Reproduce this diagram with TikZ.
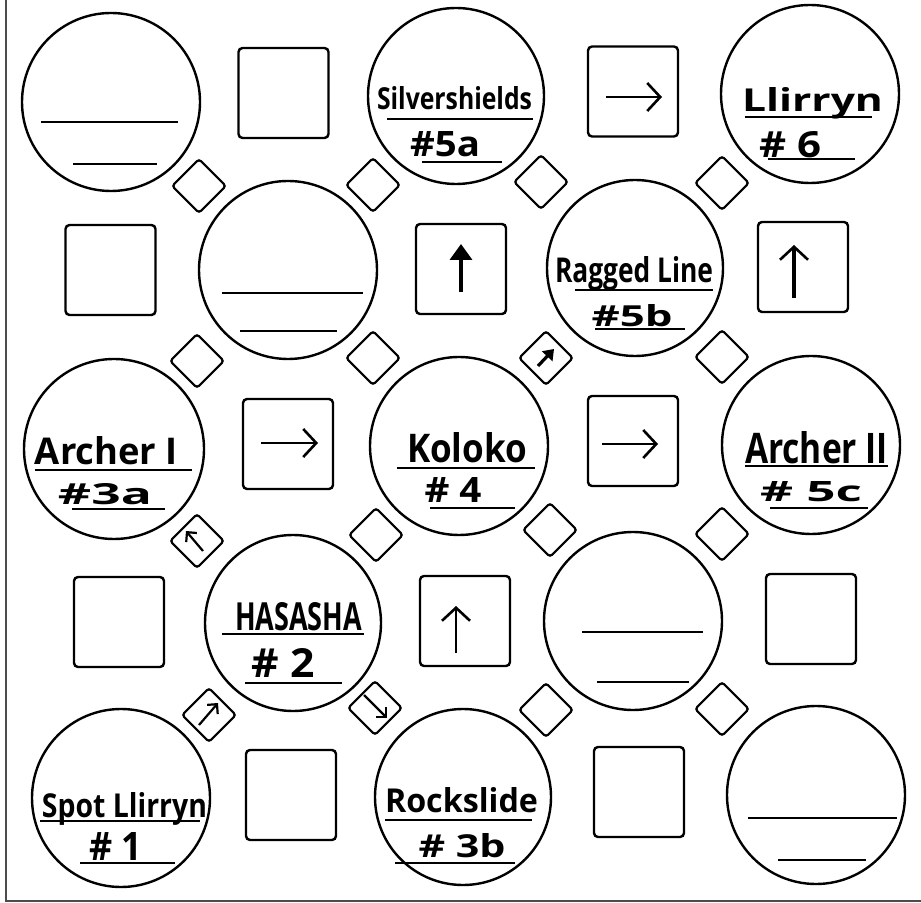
\documentclass[tikz,border=0pt]{standalone}
\usepackage{fontspec}
\setmainfont{Open Sans}
\usetikzlibrary{arrows.meta}
\newcommand{\fitto}[3]{\resizebox{#1pt}{#2pt}{\bfseries #3}}
\tikzset{
  disc/.style={circle, draw, line width=1.2pt, minimum size=#1, inner sep=0pt},
  box/.style={draw, line width=1.2pt, minimum size=45pt, rounded corners=2pt, inner sep=0pt},
  gem/.style={draw, line width=1.1pt, minimum size=19pt, rotate=45, rounded corners=1.5pt, inner sep=0pt},
  ul/.style={line width=1pt},
  lbl/.style={anchor=base, inner sep=0pt},
  harr/.style={line width=1.3pt, -{Straight Barb[length=6.5pt,width=14pt,line width=1.3pt]}},
  barr/.style={line width=1.8pt, -{Triangle[length=8pt,width=11pt]}},
  darr/.style={line width=1.1pt, -{Straight Barb[length=3.5pt,width=7pt,line width=1.1pt]}},
  dbarr/.style={line width=1.6pt, -{Triangle[length=5pt,width=7pt]}}
}
\begin{document}
\begin{tikzpicture}[x=0.5pt,y=-0.5pt]
\useasboundingbox (0,0) rectangle (921,903);
\fill[white] (0,0) rectangle (921,903);
% frame
\draw[line width=1pt, black!70] (6,0) -- (6,901) -- (921,901);

% circles
\node[disc=89pt] (c11) at (111,102) {};
\node[disc=88pt] (c13) at (456,96) {};
\node[disc=89pt] (c15) at (810,94) {};
\node[disc=89pt] (c22) at (288,270) {};
\node[disc=88pt] (c24) at (635,268) {};
\node[disc=90pt] (c31) at (114,449) {};
\node[disc=89pt] (c33) at (459,446) {};
\node[disc=89pt] (c35) at (811,445) {};
\node[disc=88pt] (c42) at (293,623) {};
\node[disc=89pt] (c44) at (633,621) {};
\node[disc=89pt] (c51) at (121,798) {};
\node[disc=88pt] (c53) at (463,797) {};
\node[disc=89pt] (c55) at (816,795) {};

% squares
\node[box] (s12) at (283.5,93) {};
\node[box] (s14) at (633,91.5) {};
\node[box] (s21) at (110.5,270) {};
\node[box] (s23) at (461,269) {};
\node[box] (s25) at (803,267) {};
\node[box] (s32) at (288,444) {};
\node[box] (s34) at (633,441) {};
\node[box] (s41) at (119,622) {};
\node[box] (s43) at (465,621) {};
\node[box] (s45) at (811,619) {};
\node[box] (s52) at (291,795) {};
\node[box] (s54) at (639,792) {};

% diamonds
\node[gem] (d1) at (199,186) {};
\node[gem] (d2) at (373,185) {};
\node[gem] (d3) at (541,182) {};
\node[gem] (d4) at (722,183) {};
\node[gem] (d5) at (197,361) {};
\node[gem] (d6) at (373,358) {};
\node[gem] (d7) at (546,358) {};
\node[gem] (d8) at (722,357) {};
\node[gem] (d9) at (197,541) {};
\node[gem] (d10) at (376,535) {};
\node[gem] (d11) at (550,530) {};
\node[gem] (d12) at (722,534) {};
\node[gem] (d13) at (209,715) {};
\node[gem] (d14) at (375,708) {};
\node[gem] (d15) at (546,710) {};
\node[gem] (d16) at (722,709) {};

% arrows in squares
\draw[harr] (606,97) -- (662,97);
\draw[barr] (461,292) -- (461,244);
\draw[harr, line width=1.8pt] (794,298) -- (794,245);
\draw[harr] (261,443) -- (318,443);
\draw[harr] (602,444) -- (658,444);
\draw[harr] (456,653) -- (456,606);

% arrows in diamonds
\draw[dbarr] (538,366) -- (554,349);
\draw[darr] (203,551) -- (186,531);
\draw[darr] (199,725) -- (218,703);
\draw[darr] (364,695) -- (387,718);

% empty circles lines
\draw[ul] (41,122) -- (178,122);
\draw[ul] (73,164) -- (157,164);
\draw[ul] (222,293) -- (363,293);
\draw[ul] (240,331) -- (337,331);
\draw[ul] (582,632) -- (703,632);
\draw[ul] (597,682) -- (689,682);
\draw[ul] (748,818) -- (897,818);
\draw[ul] (778,860) -- (866,860);

% Silvershields
\node[lbl] (t13) at (454.5,110) {\fitto{77.5}{11.5}{Silvershields}};
\draw[ul] (387,119) -- (533,119);
\node[lbl] (n13) at (445,157) {\fitto{35}{12.5}{\#5a}};
\draw[ul] (422,162) -- (502,162);

% Llirryn
\node[lbl] (t15) at (812.5,112) {\fitto{70.5}{12}{Llirryn}};
\draw[ul] (745,117) -- (872,117);
\node[lbl] (n15) at (790,158) {\fitto{31}{13}{\# 6}};
\draw[ul] (768,159) -- (855,159);

% Ragged Line
\node[lbl] (t24) at (634,283) {\fitto{79}{13}{Ragged Line}};
\draw[ul] (575,290) -- (713,290);
\node[lbl] (n24) at (632,327) {\fitto{40.5}{11}{\#5b}};
\draw[ul] (595,329) -- (685,329);

% Archer I
\node[lbl] (t31) at (106.5,465) {\fitto{71.5}{14}{Archer I}};
\draw[ul] (35,470) -- (192,470);
\node[lbl] (n31) at (105,505) {\fitto{47}{10.5}{\#3a}};
\draw[ul] (72,509) -- (165,509);

% Koloko
\node[lbl] (t33) at (467,463) {\fitto{60}{15}{Koloko}};
\draw[ul] (397,468) -- (535,468);
\node[lbl] (n33) at (453,503) {\fitto{28.5}{12.5}{\# 4}};
\draw[ul] (430,508) -- (515,508);

% Archer II
\node[lbl] (t35) at (816.5,463) {\fitto{71.5}{16}{Archer II}};
\draw[ul] (745,466) -- (888,466);
\node[lbl] (n35) at (811,502) {\fitto{51}{10}{\# 5c}};
\draw[ul] (770,508) -- (868,508);

% HASASHA
\node[lbl] (t42) at (298.5,630) {\fitto{63.5}{14}{HASASHA}};
\draw[ul] (222,634) -- (364,634);
\node[lbl] (n42) at (283,677) {\fitto{31.5}{14.5}{\# 2}};
\draw[ul] (245,683) -- (342,683);

% Spot Llirryn
\node[lbl] (t51) at (124.5,817) {\fitto{82.5}{12.5}{Spot Llirryn}};
\draw[ul] (40,821) -- (200,821);
\node[lbl] (n51) at (116,860) {\fitto{26.5}{14}{\# 1}};
\draw[ul] (80,863) -- (175,863);

% Rockslide
\node[lbl] (t53) at (461.5,812) {\fitto{76.5}{12.5}{Rockslide}};
\draw[ul] (385,820) -- (532,820);
\node[lbl] (n53) at (462,857) {\fitto{43.5}{12}{\# 3b}};
\draw[ul] (395,863) -- (515,863);
\end{tikzpicture}
\end{document}
